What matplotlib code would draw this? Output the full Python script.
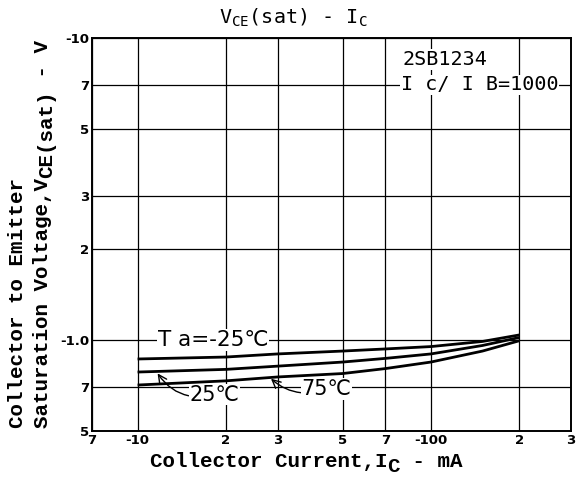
import matplotlib
matplotlib.use("Agg")
import matplotlib.pyplot as plt

# Collector current (mA, magnitude) and VCE(sat) (V, magnitude)
ic_ma = [10, 20, 30, 50, 70, 100, 150, 200]
vce_m25 = [0.866, 0.879, 0.90, 0.92, 0.935, 0.952, 0.99, 1.04]
vce_25 = [0.784, 0.80, 0.82, 0.846, 0.87, 0.90, 0.96, 1.02]
vce_75 = [0.71, 0.733, 0.755, 0.775, 0.805, 0.846, 0.92, 0.995]

x_ticks = [7, 10, 20, 30, 50, 70, 100, 200, 300]
x_labels = ["7", "-10", "2", "3", "5", "7", "-100", "2", "3"]
y_ticks = [0.5, 0.7, 1.0, 2, 3, 5, 7, 10]
y_labels = ["5", "7", "-1.0", "2", "3", "5", "7", "-10"]

MONO = ["Liberation Mono", "DejaVu Sans Mono"]
SYM = ["DejaVu Sans", "Noto Sans CJK JP"]
W, H = 576, 484

fig = plt.figure(figsize=(5.76, 4.84), dpi=100)
ax = fig.add_axes([0.160, 0.1095, 0.831, 0.8115])

for v in (vce_m25, vce_25, vce_75):
    ax.plot(ic_ma, v, color="black", lw=2.0, solid_capstyle="butt", zorder=3)

ax.set_xscale("log")
ax.set_yscale("log")
ax.set_xlim(7, 300)
ax.set_ylim(0.5, 10)
ax.set_xticks(x_ticks)
ax.set_xticklabels(x_labels, fontweight="bold", fontsize=9.5)
ax.set_yticks(y_ticks)
ax.set_yticklabels(y_labels, fontweight="bold", fontsize=9.5)
ax.minorticks_off()
ax.tick_params(length=0, pad=2)
ax.grid(True, color="black", lw=0.9)
for s in ax.spines.values():
    s.set_linewidth(1.4)

# curve labels
box = dict(facecolor="white", edgecolor="none", pad=0.5)
ax.text(18.1, 1.0, "T a=-25\u2103", fontsize=15.5, family=SYM, va="center",
        ha="center", bbox=box, zorder=4)
ax.annotate("25\u2103", xy=(11.7, 0.776), xytext=(15.0, 0.66), fontsize=15,
            family=SYM, va="center", ha="left", bbox=box, zorder=4,
            arrowprops=dict(arrowstyle="->", lw=1.0, color="black",
                            shrinkA=0, shrinkB=0,
                            connectionstyle="arc3,rad=-0.35"))
ax.annotate("75\u2103", xy=(28.5, 0.745), xytext=(36.2, 0.689), fontsize=15,
            family=SYM, va="center", ha="left", bbox=box, zorder=4,
            arrowprops=dict(arrowstyle="->", lw=1.0, color="black",
                            shrinkA=0, shrinkB=0,
                            connectionstyle="arc3,rad=-0.3"))

# device note
ax.text(80, 8.5, "2SB1234", fontsize=14.5, family="DejaVu Sans Mono",
        va="center", ha="left", bbox=box, zorder=4)
ax.text(79, 7.0, "I c/ I B=1000", fontsize=14.5, family="DejaVu Sans Mono",
        va="center", ha="left", bbox=box, zorder=4, clip_on=False)

fig.text(0.509, 0.963, r"V$_{\mathregular{CE}}$(sat) - I$_{\mathregular{C}}$",
         fontsize=14.5, family="DejaVu Sans Mono", ha="center", va="center")


def chain(pieces, x0, y0, vertical=False):
    # write label pieces one after another, subscripts shifted off the baseline
    renderer = fig.canvas.get_renderer()
    pos = y0 if vertical else x0
    for txt, shift in pieces:
        if vertical:
            t = fig.text((x0 + shift) / W, pos / H, txt, fontsize=15,
                         family=MONO, fontweight="bold", rotation=90,
                         rotation_mode="anchor", ha="left", va="baseline")
            pos = t.get_window_extent(renderer).y1
        else:
            t = fig.text(pos / W, (y0 - shift) / H, txt, fontsize=15,
                         family=MONO, fontweight="bold",
                         ha="left", va="baseline")
            pos = t.get_window_extent(renderer).x1


chain([("Collector Current,I", 0), ("C", 5), (" - mA", 0)], 150, 17)
chain([("Collector to Emitter", 0)], 23, 56, vertical=True)
chain([("Saturation Voltage,V", 0), ("CE(sat)", 4), (" - V", 0)], 48, 56,
      vertical=True)

fig.savefig("out.png", dpi=100)
